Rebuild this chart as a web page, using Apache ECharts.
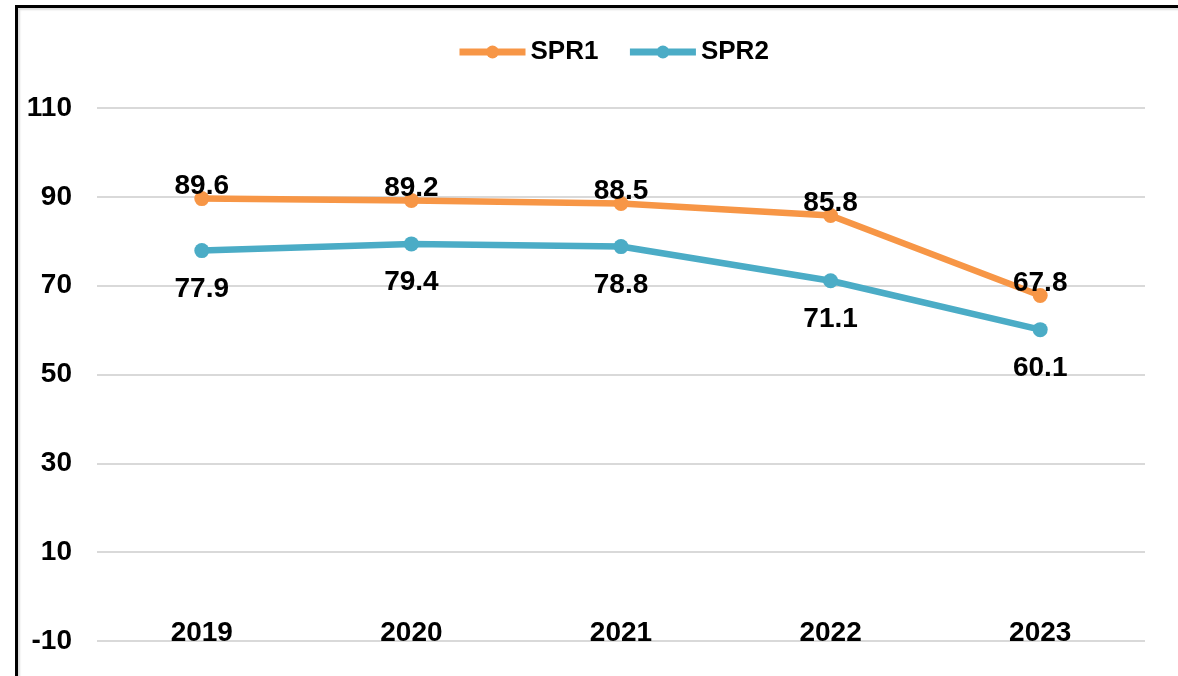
<!DOCTYPE html>
<html>
<head>
<meta charset="utf-8">
<title>SPR1 / SPR2</title>
<script src="https://cdn.jsdelivr.net/npm/echarts@6/dist/echarts.min.js"></script>
<style>
    html, body { margin: 0; padding: 0; background: #fff; }
    #wrap { position: relative; width: 1178px; height: 676px; overflow: hidden; }
    #frame {
        position: absolute; left: 15px; top: 5px; width: 1300px; height: 800px;
        border-left: 3px solid #000; border-top: 3px solid #000;
        box-shadow: inset 2px 2px 2px #ddd;
    }
    #main { position: absolute; left: 0; top: 0; width: 1178px; height: 676px; }
</style>
</head>
<body>
<div id="wrap">
    <div id="frame"></div>
    <div id="main"></div>
</div>
<script>
    // data
    var years = ['2019', '2020', '2021', '2022', '2023']
        ,spr1 = [89.6, 89.2, 88.5, 85.8, 67.8]
        ,spr2 = [77.9, 79.4, 78.8, 71.1, 60.1];

    var font = '"Liberation Sans", Arial, sans-serif'
        ,orange = '#f79646'
        ,blue = '#4bacc6';

    var chart = echarts.init(document.getElementById('main'), null, {renderer: 'canvas'});

    //build one line series
    var makeSeries = function(name, data, color, pos, dist){
        return {
            name: name
            ,type: 'line'
            ,data: data
            ,symbol: 'circle'
            ,symbolSize: 15
            ,lineStyle: {width: 6.5, color: color}
            ,itemStyle: {color: color}
            ,label: {
                show: true
                ,position: pos
                ,distance: dist
                ,color: '#000'
                ,fontFamily: font
                ,fontWeight: 'bold'
                ,fontSize: 28
            }
        };
    };

    chart.setOption({
        animation: false
        ,backgroundColor: 'transparent'
        ,legend: {
            top: 34
            ,left: 451
            ,itemWidth: 66
            ,itemHeight: 16
            ,itemGap: 28
            ,lineStyle: {width: 7}
            ,textStyle: {fontFamily: font, fontWeight: 'bold', fontSize: 26, color: '#000'}
            ,data: ['SPR1', 'SPR2']
        }
        ,grid: {left: 97, right: 33, top: 108, bottom: 35, containLabel: false}
        ,xAxis: {
            type: 'category'
            ,data: years
            ,boundaryGap: true
            ,axisLine: {show: false}
            ,axisTick: {show: false}
            ,axisLabel: {
                margin: -22
                ,color: '#000'
                ,fontFamily: font
                ,fontWeight: 'bold'
                ,fontSize: 28
            }
        }
        ,yAxis: {
            type: 'value'
            ,min: -10
            ,max: 110
            ,interval: 20
            ,axisLine: {show: false}
            ,axisTick: {show: false}
            ,splitLine: {lineStyle: {color: '#d9d9d9', width: 2}}
            ,axisLabel: {
                margin: 25
                ,color: '#000'
                ,fontFamily: font
                ,fontWeight: 'bold'
                ,fontSize: 28
            }
        }
        ,series: [
            makeSeries('SPR1', spr1, orange, 'top', -9)
            ,makeSeries('SPR2', spr2, blue, 'bottom', 17)
        ]
    });
</script>
</body>
</html>
